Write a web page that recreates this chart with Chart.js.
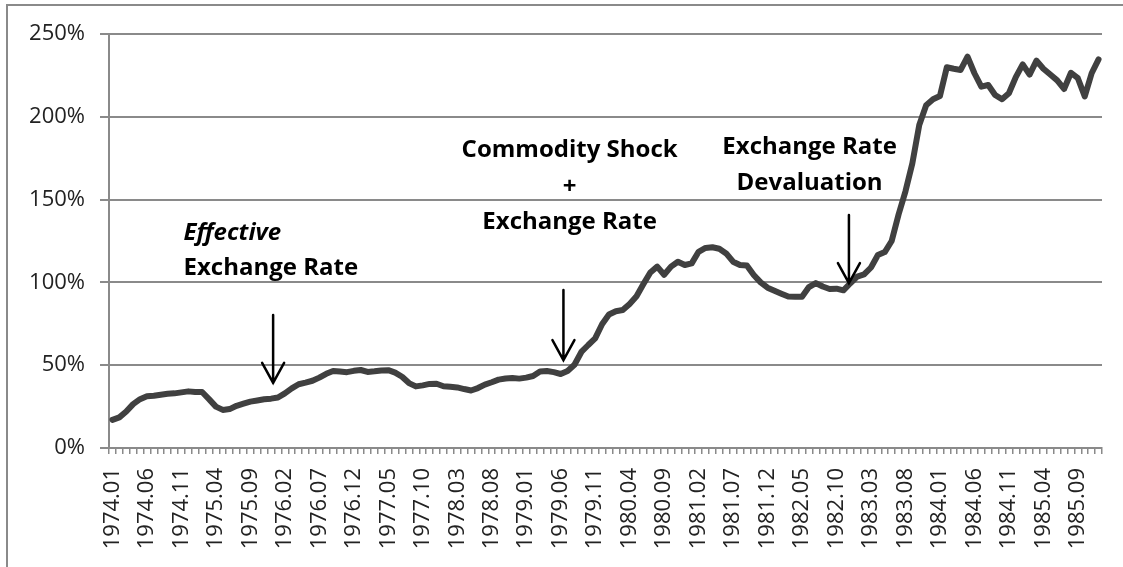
<!DOCTYPE html>
<html>
<head>
<meta charset="utf-8">
<script src="https://cdn.jsdelivr.net/npm/chart.js@4.4.0/dist/chart.umd.min.js"></script>
<style>
  html, body { margin: 0; padding: 0; background: #fff; }
  #wrap { position: relative; width: 1123px; height: 567px; overflow: hidden; }
  #frame {
    position: absolute; left: 6px; top: 4px; right: -4px; bottom: -4px;
    border-left: 2px solid #8a8a8a; border-top: 2px solid #8a8a8a;
    pointer-events: none;
  }
  canvas { position: absolute; left: 0; top: 0; }
</style>
</head>
<body>
<div id="wrap">
  <canvas id="rateChart" width="1123" height="567"></canvas>
  <div id="frame"></div>
</div>
<script>
// data
const years = [1974, 1975, 1976, 1977, 1978, 1979, 1980, 1981, 1982, 1983, 1984, 1985];
const months = ['01', '02', '03', '04', '05', '06', '07', '08', '09', '10', '11', '12'];

// monthly values (%), one row per year
const rate1974 = [17, 18.5, 22, 26.5, 29.5, 31.3, 31.6, 32.2, 32.7, 33, 33.6, 34.2];
const rate1975 = [33.8, 33.8, 29.5, 25, 23, 23.5, 25.5, 26.8, 28, 28.7, 29.4, 29.8];
const rate1976 = [30.5, 33, 36, 38.5, 39.5, 40.6, 42.5, 44.8, 46.5, 46.2, 45.8, 46.6];
const rate1977 = [47.1, 45.9, 46.3, 46.8, 47, 45.5, 43, 39.2, 37.2, 37.8, 38.7, 38.8];
const rate1978 = [37.3, 37, 36.6, 35.6, 34.7, 36.2, 38.3, 39.7, 41.3, 42, 42.3, 41.9];
const rate1979 = [42.5, 43.5, 46.2, 46.5, 45.8, 44.7, 46.5, 50.3, 58, 62.2, 66.2, 74.7];
const rate1980 = [80.6, 82.6, 83.3, 87, 91.7, 99, 106, 109.5, 104.6, 109.5, 112.5, 110.5];
const rate1981 = [111.5, 118.5, 120.8, 121.2, 120.3, 117.5, 112.5, 110.5, 110.2, 104.5, 100, 96.8];
const rate1982 = [95, 93.2, 91.5, 91.4, 91.4, 97.2, 99.6, 97.5, 96, 96.2, 95.2, 99.5];
const rate1983 = [103.5, 104.8, 109, 116.5, 118.3, 125, 141, 155, 172, 195, 207, 210.6];
const rate1984 = [212.6, 229.9, 229, 228.3, 236.3, 226.3, 218.2, 219.2, 213.2, 210.6, 214.2, 224];
const rate1985 = [231.7, 225.5, 233.9, 229, 225.5, 222, 216.8, 226.6, 223.3, 212.3, 226.3, 234.7];

const yTicks = [0, 50, 100, 150, 200, 250];

// annotations (x = month index, y = value %)
const noteTexts = [
  { text: 'Effective', x: 10.3, y: 129.8, align: 'left', italic: true },
  { text: 'Exchange Rate', x: 10.3, y: 108.7, align: 'left' },
  { text: 'Commodity Shock', x: 66.3, y: 180, align: 'center' },
  { text: '+', x: 66.3, y: 157.6, align: 'center' },
  { text: 'Exchange Rate', x: 66.3, y: 136.5, align: 'center' },
  { text: 'Exchange Rate', x: 101.1, y: 181.8, align: 'center' },
  { text: 'Devaluation', x: 101.1, y: 160, align: 'center' }
];
const noteArrows = [
  { x: 23.3, from: 80.3, to: 39.3 },
  { x: 65.4, from: 95.4, to: 53.1 },
  { x: 106.8, from: 140.7, to: 99.6 }
];

const labels = [];
years.forEach(y => months.forEach(m => labels.push(y + '.' + m)));
const values = [].concat(rate1974, rate1975, rate1976, rate1977, rate1978, rate1979,
  rate1980, rate1981, rate1982, rate1983, rate1984, rate1985);

const gridGray = '#8a8a8a';
const tickFont = { family: '"Open Sans", sans-serif', size: 22 };

// draws the text notes and arrows on top of the line
const notesPlugin = {
  id: 'notes',
  afterDatasetsDraw(chart) {
    const ctx = chart.ctx;
    const xs = chart.scales.x;
    const ys = chart.scales.y;
    ctx.save();
    ctx.fillStyle = '#000';
    ctx.textBaseline = 'middle';
    noteTexts.forEach(n => {
      ctx.font = (n.italic ? 'italic ' : '') + 'bold 24px "Open Sans", sans-serif';
      ctx.textAlign = n.align;
      ctx.fillText(n.text, xs.getPixelForValue(n.x), ys.getPixelForValue(n.y));
    });
    ctx.strokeStyle = '#000';
    ctx.lineWidth = 2.5;
    ctx.lineCap = 'round';
    noteArrows.forEach(a => {
      const x = xs.getPixelForValue(a.x);
      const y1 = ys.getPixelForValue(a.from);
      const y2 = ys.getPixelForValue(a.to);
      ctx.beginPath();
      ctx.moveTo(x, y1);
      ctx.lineTo(x, y2);
      ctx.moveTo(x - 11, y2 - 20);
      ctx.lineTo(x, y2);
      ctx.lineTo(x + 11, y2 - 20);
      ctx.stroke();
    });
    ctx.restore();
  }
};

const ctx = document.getElementById('rateChart').getContext('2d');

new Chart(ctx, {
  type: 'line',
  data: {
    labels: labels,
    datasets: [{
      data: values,
      borderColor: '#404040',
      borderWidth: 6,
      pointRadius: 0,
      tension: 0,
      borderJoinStyle: 'round',
      borderCapStyle: 'round'
    }]
  },
  options: {
    responsive: false,
    animation: false,
    devicePixelRatio: 1,
    layout: { padding: { top: 34, right: 21, left: 0, bottom: 0 } },
    plugins: {
      legend: { display: false },
      tooltip: { enabled: false }
    },
    scales: {
      x: {
        offset: true,
        grid: {
          offset: true,
          drawOnChartArea: false,
          drawTicks: true,
          tickLength: 6,
          color: gridGray,
          lineWidth: 1.5
        },
        border: { display: true, color: gridGray, width: 2 },
        ticks: {
          autoSkip: false,
          minRotation: 90,
          maxRotation: 90,
          padding: 14,
          color: '#222',
          font: tickFont,
          callback: (v, i) => (i % 5 === 0 ? labels[i] : '')
        },
        afterFit: s => {
          s.height = 119;
          s.paddingLeft = 0;
          s.paddingRight = 0;
        }
      },
      y: {
        min: yTicks[0],
        max: yTicks[yTicks.length - 1],
        afterBuildTicks: s => { s.ticks = yTicks.map(v => ({ value: v })); },
        grid: { color: gridGray, lineWidth: 2, drawTicks: true, tickLength: 9 },
        border: { display: true, color: gridGray, width: 2 },
        ticks: {
          padding: 15,
          color: '#222',
          font: tickFont,
          callback: v => v + '%'
        },
        afterFit: s => { s.width = 109; }
      }
    }
  },
  plugins: [notesPlugin]
});
</script>
</body>
</html>
